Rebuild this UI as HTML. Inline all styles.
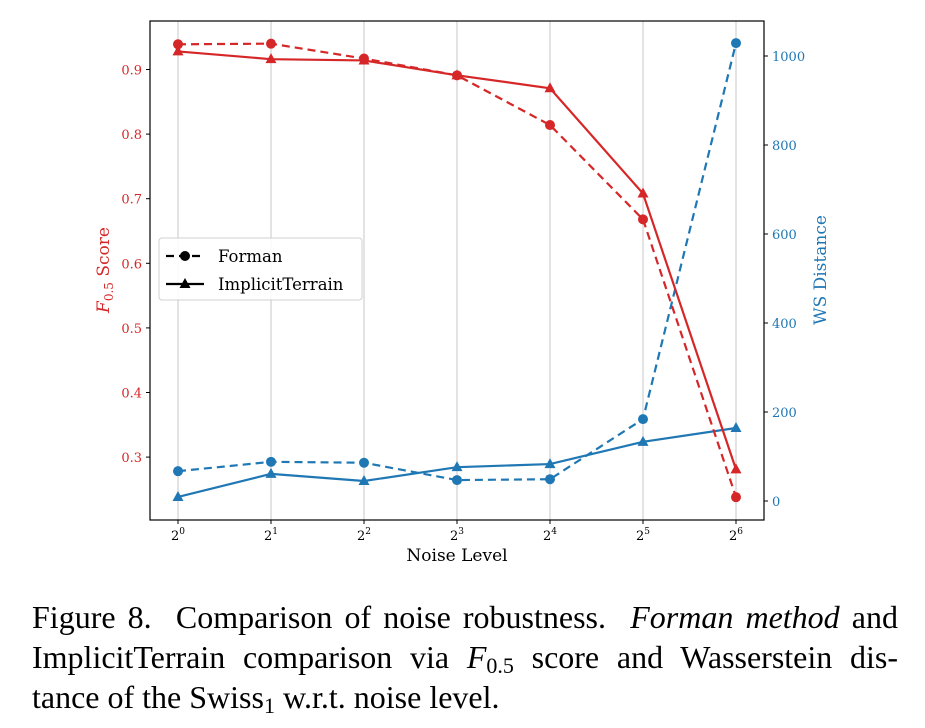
<!DOCTYPE html>
<html><head><meta charset="utf-8"><style>
body{margin:0;background:#fff;width:925px;height:728px;overflow:hidden}
#cap{position:absolute;left:32px;top:597px;width:866px;font-family:"Liberation Serif",serif;font-size:32px;line-height:40px;color:#000}
#cap div{white-space:nowrap}
#cap .j{text-align:justify;text-align-last:justify}
#cap sub{font-size:22px;line-height:0;vertical-align:-5px}
</style></head><body>
<svg id="chart" width="925" height="590" style="position:absolute;left:0;top:0" font-family="DejaVu Serif, serif"></svg>
<div id="cap"><div class="j">Figure 8.&nbsp; Comparison of noise robustness. &nbsp;<i>Forman method</i> and</div><div class="j">ImplicitTerrain comparison via <i>F</i><sub>0.5</sub> score and Wasserstein dis-</div><div>tance of the Swiss<sub>1</sub> w.r.t. noise level.</div></div>
<script>
const categories=[0,1,2,3,4,5,6];
const f05Forman=[0.939,0.940,0.917,0.891,0.814,0.668,0.238];
const f05Implicit=[0.928,0.916,0.914,0.891,0.871,0.708,0.281];
const wsForman=[67,88,86,47,49,184,1029];
const wsImplicit=[9,61,45,76,83,133,164];
const leftTicks=[0.3,0.4,0.5,0.6,0.7,0.8,0.9];
const rightTicks=[0,200,400,600,800,1000];
const NS="http://www.w3.org/2000/svg";
const svg=document.getElementById('chart');
const L=150,R=764,T=21,B=520;
const RED="#d62728",BLUE="#1f77b4";
const x=i=>178+i*(736-178)/6;
const yl=v=>69.5+(0.9-v)*646;
const yr=v=>501-v*0.445;
function el(t,a,p){const e=document.createElementNS(NS,t);for(const k in a)e.setAttribute(k,a[k]);(p||svg).appendChild(e);return e;}
categories.forEach((c,i)=>{
 const g=el('line',{x1:x(i),x2:x(i),y1:T,y2:B,stroke:'#b0b0b0','stroke-width':1,opacity:0.7});
 
 
 el('line',{x1:x(i),x2:x(i),y1:B,y2:B+4,stroke:'#000'});
 const t=el('text',{x:x(i),y:B+20,'text-anchor':'middle','font-size':13,fill:'#000'});
 
 
 t.innerHTML='2<tspan dy="-6" font-size="9">'+c+'</tspan>';
});
leftTicks.forEach(v=>{
 el('line',{x1:L-4,x2:L,y1:yl(v),y2:yl(v),stroke:'#000'});
 const t=el('text',{x:L-8,y:yl(v)+5,'text-anchor':'end','font-size':13,fill:RED});
 
 
 t.textContent=v.toFixed(1);
});
rightTicks.forEach(v=>{
 el('line',{x1:R,x2:R+4,y1:yr(v),y2:yr(v),stroke:'#000'});
 const t=el('text',{x:R+8,y:yr(v)+5,'font-size':13,fill:BLUE});
 
 
 t.textContent=v;
});
const fr=el('rect',{x:L,y:T,width:R-L,height:B-T,fill:'none',stroke:'#000','stroke-width':1.2});


function series(vals,fy,color,dash,marker,name){
 const g=el('g',{});
 
 
 el('polyline',{points:vals.map((v,i)=>x(i)+','+fy(v)).join(' '),fill:'none',stroke:color,'stroke-width':2.2,'stroke-dasharray':dash?'8,5':'none'},g);
 vals.forEach((v,i)=>{
  let m;
  if(marker==='o') m=el('circle',{cx:x(i),cy:fy(v),r:5,fill:color},g);
  else {const X=x(i),Y=fy(v);m=el('polygon',{points:`${X},${Y-6} ${X-5.5},${Y+4} ${X+5.5},${Y+4}`,fill:color},g);}
  
  
 });
}
series(wsForman,yr,BLUE,true,'o','ws-forman-series');
series(wsImplicit,yr,BLUE,false,'^','ws-implicit-series');
series(f05Forman,yl,RED,true,'o','f05-forman-series');
series(f05Implicit,yl,RED,false,'^','f05-implicit-series');
let t=el('text',{x:457,y:561,'text-anchor':'middle','font-size':17,fill:'#000'});
t.textContent='Noise Level';
t=el('text',{transform:'translate(109,270) rotate(-90)','text-anchor':'middle','font-size':17,fill:RED});

t.innerHTML='<tspan font-style="italic">F</tspan><tspan dy="4" font-size="12">0.5</tspan><tspan dy="-4"> Score</tspan>';
t=el('text',{transform:'translate(826,270) rotate(-90)','text-anchor':'middle','font-size':17,fill:BLUE});
t.textContent='WS Distance';
const lg=el('g',{});

el('rect',{x:159,y:238,width:203,height:62,rx:3,fill:'#fff',stroke:'#ccc',opacity:0.9},lg);
el('line',{x1:166,x2:204,y1:256,y2:256,stroke:'#000','stroke-width':2.2,'stroke-dasharray':'8,5'},lg);
el('circle',{cx:185,cy:256,r:5,fill:'#000'},lg);
el('line',{x1:166,x2:204,y1:284,y2:284,stroke:'#000','stroke-width':2.2},lg);
el('polygon',{points:'185,278 179.5,288 190.5,288',fill:'#000'},lg);
let a=el('text',{x:218,y:262,'font-size':16.5,fill:'#000'},lg);a.textContent='Forman';

a=el('text',{x:218,y:290,'font-size':16.5,fill:'#000'},lg);a.textContent='ImplicitTerrain';

</script>
</body></html>
